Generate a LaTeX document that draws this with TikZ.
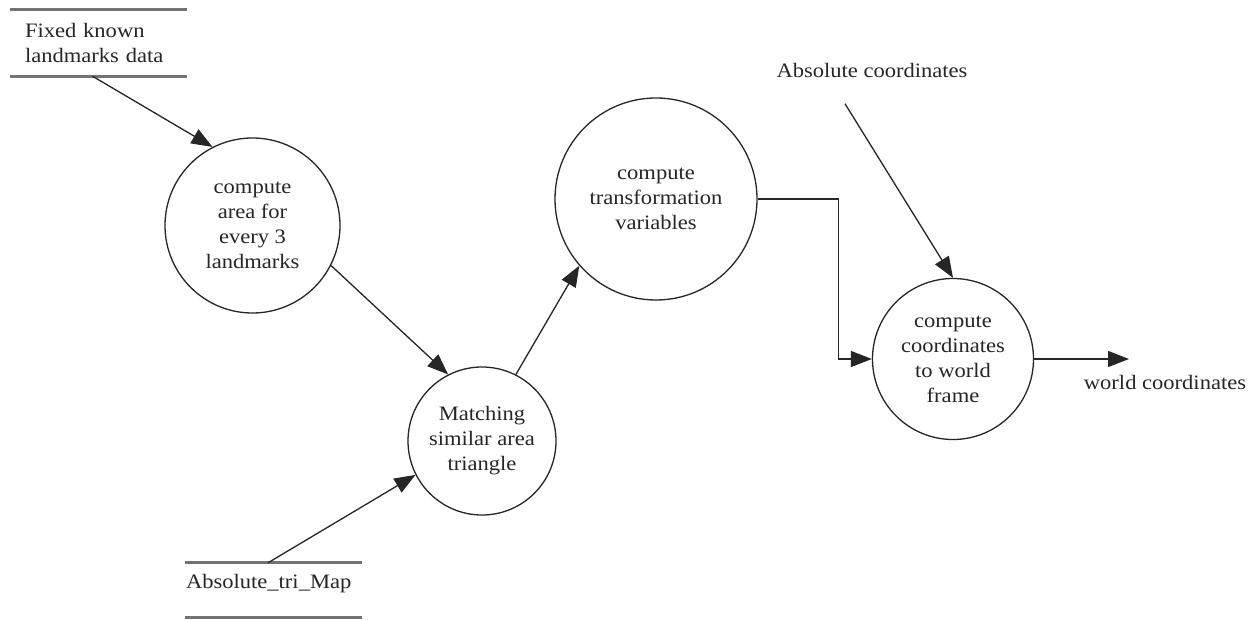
\documentclass[tikz,border=0pt]{standalone}
\usepackage{fontspec}
\setmainfont{Liberation Serif}[FakeStretch=1.1]
\usetikzlibrary{arrows.meta}
\begin{document}
\begin{tikzpicture}[x=1pt,y=-1pt,
  every node/.style={font=\fontsize{20.5}{25}\selectfont, text=black!85},
  proc/.style={circle, draw=black!85, line width=1.3pt, minimum size=#1, inner sep=0pt, align=center},
  store/.style={inner sep=0pt, align=left},
  storeline/.style={draw=black!55, line width=3pt},
  flow/.style={draw=black!85, line width=1.3pt, -{Triangle[length=21pt,width=16pt]}},
]
\useasboundingbox[fill=white] (0,0) rectangle (1258,620);

% processes
\node[proc=175pt] (c1) at (252.5,225.5) {compute\\area for\\every 3\\landmarks};
\node[proc=148pt] (c2) at (482,441) {Matching\\similar area\\triangle};
\node[proc=202pt] (c3) at (656,199) {compute\\transformation\\variables};
\node[proc=161pt] (c4) at (953,359) {compute\\coordinates\\to world\\frame};

% data stores
\node[store, minimum width=177pt, minimum height=66pt, text width=147pt] (fk) at (98.5,43) {Fixed known\\landmarks data};
\draw[storeline] (fk.north west) -- (fk.north east);
\draw[storeline] (fk.south west) -- (fk.south east);

\node[store, minimum width=177pt, minimum height=54pt, text width=175pt, text height=15pt, text depth=19pt] (at) at (273.5,590) {Absolute\_tri\_Map};
\draw[storeline] (at.north west) -- (at.north east);
\draw[storeline] (at.south west) -- (at.south east);

% external entities
\node (ac) at (872,70) {Absolute coordinates};
\node (wc) at (1165,382) {world coordinates};
\coordinate (wend) at (1129,359);

% flows
\draw[flow] ([xshift=-6pt]fk.south) -- (c1.117);
\draw[flow] (c1.-27) -- (c2.117);
\draw[flow] (c2.63) -- (c3.221);
\draw[flow] (c3.east) -- ++(81,0) |- (c4.west);
\draw[flow] ([xshift=-27pt,yshift=-23pt]ac.south) -- (c4.north);
\draw[flow] (c4.east) -- (wend);
\draw[flow] ([xshift=-5.5pt]at.north) -- (c2.207);
\end{tikzpicture}
\end{document}
